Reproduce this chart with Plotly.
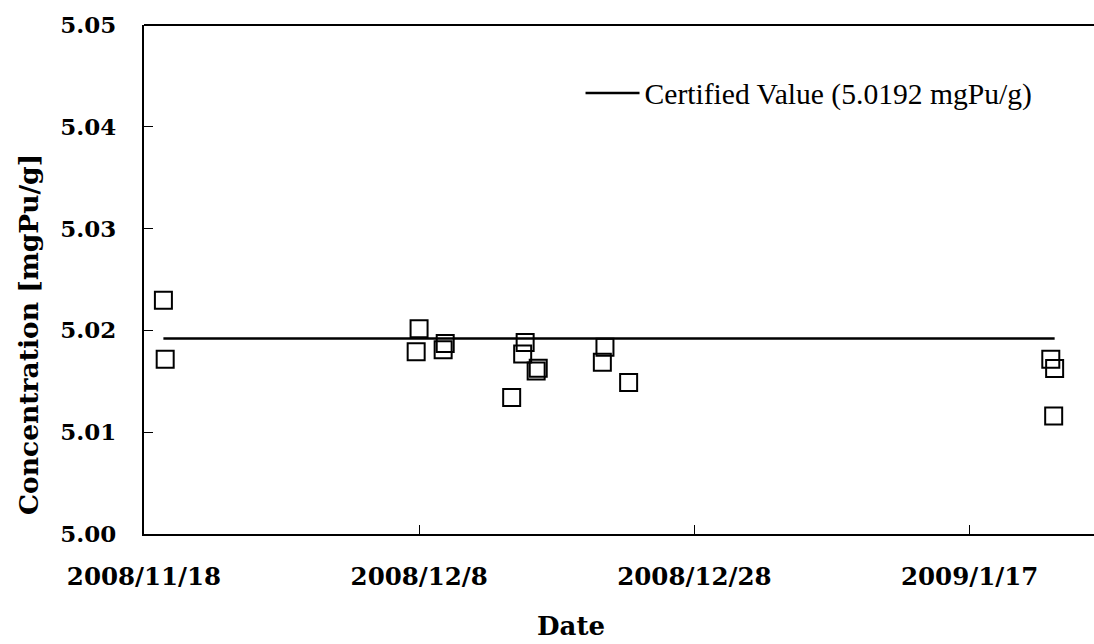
import plotly.graph_objects as go

# Measurement dates and measured Pu concentrations [mgPu/g]
dates = [
    "2008-11-19 09:50", "2008-11-19 12:58",
    "2008-12-07 23:46", "2008-12-07 18:43",
    "2008-12-09 21:22", "2008-12-09 17:46",
    "2008-12-15 16:48", "2008-12-15 12:29",
    "2008-12-16 12:00", "2008-12-16 15:36",
    "2008-12-14 17:17",
    "2008-12-21 12:00", "2008-12-21 07:26",
    "2008-12-23 05:17",
    "2009-01-22 21:36", "2009-01-23 04:19", "2009-01-23 02:38",
]
values = [
    5.02296, 5.01717,
    5.02016, 5.01791,
    5.01872, 5.01811,
    5.01880, 5.01768,
    5.01602, 5.01627,
    5.01341,
    5.01835, 5.01688,
    5.01488,
    5.01717, 5.01626, 5.01159,
]
certified_value = 5.0192
certified_label = "Certified Value (5.0192 mgPu/g)"

x_tick_vals = ["2008-11-18", "2008-12-08", "2008-12-28", "2009-01-17"]
x_tick_text = ["2008/11/18", "2008/12/8", "2008/12/28", "2009/1/17"]
y_tick_vals = [5.00, 5.01, 5.02, 5.03, 5.04, 5.05]
x_range = ["2008-11-18 00:00", "2009-01-26 00:58"]
y_range = [5.00, 5.05]

FONT = "DejaVu Serif"
FONT_REG = "Liberation Serif"

line_dates = sorted(dates)
fig = go.Figure()
fig.add_trace(go.Scatter(
    x=dates, y=values, mode="markers",
    marker=dict(symbol="square-open", size=17, color="black",
                line=dict(width=2, color="black")),
    showlegend=False, hoverinfo="x+y",
))
fig.add_trace(go.Scatter(
    x=line_dates,
    y=[certified_value] * len(line_dates),
    mode="lines", line=dict(color="black", width=2.5),
    name=certified_label,
))

fig.update_layout(
    width=1094, height=644,
    margin=dict(l=144, r=0, t=25, b=110),
    paper_bgcolor="white", plot_bgcolor="white",
    font=dict(family=FONT, color="black"),
    showlegend=True,
    legend=dict(x=0.4595, y=0.866, xanchor="left", yanchor="middle",
                bgcolor="rgba(0,0,0,0)", itemwidth=54,
                font=dict(family=FONT_REG, size=29.6, color="black")),
    xaxis=dict(
        type="date", range=x_range,
        tickvals=x_tick_vals, ticktext=x_tick_text,
        ticks="inside", ticklen=9, tickwidth=1, tickcolor="black",
        showline=True, linecolor="black", linewidth=2,
        showgrid=False, zeroline=False,
        tickfont=dict(family=FONT, size=24.5, color="black", weight="bold"),
        ticklabelstandoff=20,
    ),
    yaxis=dict(
        range=y_range, tickvals=y_tick_vals, tickformat=".2f",
        ticks="inside", ticklen=9, tickwidth=1, tickcolor="black",
        showline=True, linecolor="black", linewidth=2,
        showgrid=False, zeroline=False,
        tickfont=dict(family=FONT, size=23, color="black", weight="bold"),
        ticklabelstandoff=21,
    ),
    shapes=[dict(type="line", xref="paper", yref="paper", x0=0, x1=1, y0=1, y1=1,
                 line=dict(color="black", width=2))],
    annotations=[
        dict(text="Concentration [mgPu/g]", textangle=-90, xref="paper", yref="paper",
             x=(28 - 144) / 950, y=(534 - 335) / 509, xanchor="center", yanchor="middle",
             showarrow=False, font=dict(family=FONT, size=26.5, color="black", weight="bold")),
        dict(text="Date", xref="paper", yref="paper",
             x=(571 - 144) / 950, y=(534 - 626) / 509, xanchor="center", yanchor="middle",
             showarrow=False, font=dict(family=FONT, size=26, color="black", weight="bold")),
    ],
)

fig.write_html("out.html")
